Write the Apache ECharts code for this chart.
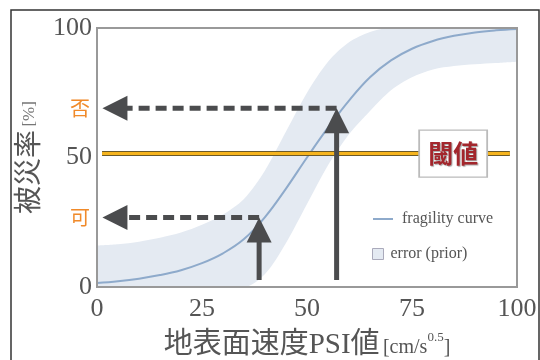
<!DOCTYPE html>
<html><head><meta charset="utf-8">
<script src="https://cdn.jsdelivr.net/npm/echarts@6/dist/echarts.min.js"></script>
<style>html,body{margin:0;padding:0;background:#fff}#c{width:540px;height:360px}</style>
</head><body><div id="c"></div>
<script>
// ---- data ----
const psiValues = [0,5,10,15,20,25,30,35,40,45,50,55,60,65,70,75,80,85,90,95,100];
const fragilityCurve = [1.5,2.2,3.2,4.6,6.5,9.2,13,18.5,27,38,50,61.5,72,81,87.5,92,95,97,98.3,99.1,99.6];
const errorUpper = [16,16.5,17.5,19,21,24,28,34,45,60,75,87,94.5,98.5,100,100,100,100,100,100,100];
const errorLower = [0,0,0,0,0,0,0,0,5,17,32,47,59,68,76,81,84,85.3,86,86.5,87];
const xTicks = [0,25,50,75,100];
const yTicks = [0,50,100];
const thresholdValue = 51.5;
const thresholdSpanX = [1.2, 98.3];
const thresholdLabelX = 84.8;
const decisionValues = [69, 26.8];
const decisionLabels = ['否', '可'];
// arrows: from (x,y) to (x,y), dashed flag
const arrowFromX = [57.05, 38.6, 57.05, 38.6];
const arrowFromY = [2.7, 2.7, 69, 26.8];
const arrowToX   = [57.05, 38.6, 1.3, 1.3];
const arrowToY   = [69, 26.8, 69, 26.8];
const arrowDashed = [0, 0, 1, 1];

const serif = "'Liberation Serif','Noto Sans CJK JP',serif";
const cjk = "'Noto Sans CJK JP',sans-serif";
const bandColor = '#e4eaf2';
const arrowColor = '#4b4c4e';

const upperData = psiValues.map((x,i)=>[x, errorUpper[i]]);
const lowerData = psiValues.map((x,i)=>[x, errorLower[i]]);
const curveData = psiValues.map((x,i)=>[x, fragilityCurve[i]]);
const thresholdData = thresholdSpanX.map(x=>[x, thresholdValue]);
const arrowData = arrowFromX.map((x,i)=>[x, arrowFromY[i], arrowToX[i], arrowToY[i], arrowDashed[i]]);

const chart = echarts.init(document.getElementById('c'), null, {renderer:'canvas'});
chart.setOption({
  backgroundColor:'#fff',
  animation:false,
  graphic:[{type:'rect', shape:{x:11, y:10, width:528, height:360}, style:{fill:null, stroke:'#333', lineWidth:1.5}, silent:true}],
  grid:{left:97, top:28, right:23, bottom:73, show:true, borderColor:'#999', borderWidth:2, backgroundColor:'transparent', z:20,
        containLabel:false, outerBoundsMode:'none'},
  legend:[
    {data:[{name:'fragility curve', itemStyle:{opacity:0}}], left:372, top:211, padding:0, orient:'vertical', itemWidth:20, itemHeight:10,
     textStyle:{fontFamily:serif, fontSize:16, color:'#555', padding:[0,0,0,4]}},
    {data:[{name:'error (prior)', icon:'rect', itemStyle:{color:bandColor, borderColor:'#aab', borderWidth:1}}],
     left:372, top:246, padding:0, orient:'vertical', itemWidth:11, itemHeight:11,
     textStyle:{fontFamily:serif, fontSize:16, color:'#555', padding:[0,0,0,2]}}
  ],
  xAxis:{type:'value', min:0, max:100, interval:25, z:20,
    axisLine:{show:true, lineStyle:{color:'#999', width:2}}, axisTick:{show:false}, splitLine:{show:false},
    axisLabel:{fontFamily:serif, fontSize:26, color:'#555', margin:9, customValues: xTicks},
    name:'{a|地表面速度PSI値} {b|[cm/s}{c|0.5}{b|]}', nameLocation:'middle', nameGap:44,
    nameTextStyle:{rich:{
      a:{fontFamily:serif, fontSize:29, color:'#555', verticalAlign:'bottom'},
      b:{fontFamily:serif, fontSize:20, color:'#555', verticalAlign:'bottom', padding:[0,0,2,0]},
      c:{fontFamily:serif, fontSize:13, color:'#555', verticalAlign:'top', padding:[0,0,0,0]}
    }}
  },
  yAxis:[
    {type:'value', min:0, max:100, interval:50, z:20,
     axisLine:{show:true, lineStyle:{color:'#999', width:2}}, axisTick:{show:false}, splitLine:{show:false},
     axisLabel:{fontFamily:serif, fontSize:26, color:'#555', margin:5, customValues: yTicks},
     name:'{a|被災率} {b|[%]}', nameLocation:'middle', nameRotate:90, nameGap:56,
     nameTextStyle:{rich:{
       a:{fontFamily:cjk, fontSize:28, color:'#555', verticalAlign:'bottom'},
       b:{fontFamily:serif, fontSize:17, color:'#777', verticalAlign:'bottom', padding:[0,0,3,0]}
     }}
    },
    {type:'value', min:0, max:100, position:'left',
     axisLine:{show:false}, axisTick:{show:false}, splitLine:{show:false},
     axisLabel:{customValues: decisionValues, formatter:(v)=>decisionLabels[decisionValues.indexOf(v)] || '',
       color:'#f08a2a', fontSize:20, fontFamily:cjk, margin:7}
    }
  ],
  series:[
    {name:'error (prior)', type:'line', data:upperData, symbol:'none', smooth:0.3,
     color:bandColor, lineStyle:{opacity:0}, areaStyle:{color:bandColor, opacity:1}, silent:true, z:1},
    {name:'lowerMask', type:'line', data:lowerData, symbol:'none', smooth:0.3,
     lineStyle:{opacity:0}, areaStyle:{color:'#fff', opacity:1}, silent:true, z:1},
    {name:'fragility curve', type:'line', data:curveData, symbol:'none', smooth:0.4,
     color:'#8eaacb', lineStyle:{color:'#8eaacb', width:2}, z:3},
    {name:'thrOutline', type:'line', data:thresholdData, symbol:'none',
     lineStyle:{color:'#6b5a2a', width:5}, z:4, silent:true},
    {name:'threshold', type:'line', data:thresholdData, symbol:'none',
     lineStyle:{color:'#f6b41e', width:3}, z:5, silent:true},
    {name:'thrLabel', type:'scatter', data:[[thresholdLabelX, thresholdValue]], symbol:'rect', symbolSize:[68,47], z:8, silent:true,
     itemStyle:{color:'#fff', borderColor:'#bbb', borderWidth:1.5, opacity:1},
     label:{show:true, position:'inside', formatter:'閾値', color:'#a3262c', fontSize:25, fontWeight:'bold',
       fontFamily:cjk, textShadowColor:'rgba(0,0,0,0.35)', textShadowBlur:1, textShadowOffsetX:1, textShadowOffsetY:1}
    },
    {name:'arrows', type:'custom', data:arrowData, z:10, clip:false, silent:true,
     encode:{x:[0,2], y:[1,3]},
     renderItem:function(params, api){
       const p1 = api.coord([api.value(0), api.value(1)]);
       const p2 = api.coord([api.value(2), api.value(3)]);
       const dashed = api.value(4) === 1;
       const dx = p2[0]-p1[0], dy = p2[1]-p1[1];
       const len = Math.sqrt(dx*dx+dy*dy);
       const ux = dx/len, uy = dy/len;
       const H = 25, W = 12.5;
       const bx = p2[0]-ux*H, by = p2[1]-uy*H;
       const ex = p2[0]-ux*H*0.6, ey = p2[1]-uy*H*0.6;
       return {type:'group', children:[
         {type:'line', shape:{x1:p1[0], y1:p1[1], x2:ex, y2:ey},
          style:{stroke:arrowColor, lineWidth:5, lineDash: dashed ? [11,6] : null}},
         {type:'polygon', shape:{points:[[p2[0],p2[1]],[bx-uy*W, by+ux*W],[bx+uy*W, by-ux*W]]},
          style:{fill:arrowColor}}
       ]};
     }
    }
  ]
});
</script></body></html>
